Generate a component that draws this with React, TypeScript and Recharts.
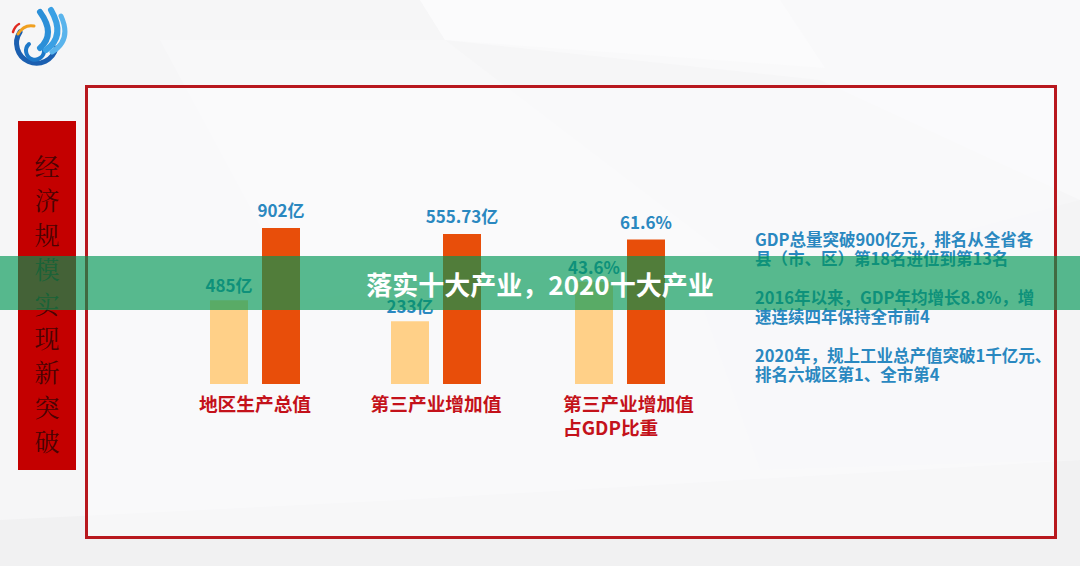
import { BarChart, Bar, XAxis, YAxis, LabelList } from 'recharts';

// chart data
const categories = ['地区生产总值', '第三产业增加值', '第三产业增加值\n占GDP比重'];
const before = [485, 233, 43.6];
const after = [902, 555.73, 61.6];
const units = ['亿', '亿', '%'];
// each group has its own scale on the slide
const domainMax = [1180, 756, 87];
const groupLeft = [165, 346, 530];

const notes = [
  ['GDP总量突破900亿元，排名从全省各', '县（市、区）第18名进位到第13名'],
  ['2016年以来，GDP年均增长8.8%，增', '速连续四年保持全市前4'],
  ['2020年，规上工业总产值突破1千亿元、', '排名六城区第1、全市第4'],
];
const sideTitle = '经济规模实现新突破';
const banner = '落实十大产业，2020十大产业';

const FONT = '"Noto Sans CJK SC", "Noto Sans", sans-serif';
const RED = '#c4121a';
const BLUE = '#2a88c0';

function CatTick(props: any) {
  const { x, y, payload } = props;
  const lines = String(payload.value).split('\n');
  const multi = lines.length > 1;
  const tx = multi ? x - 57 : x;
  return (
    <text
      x={tx}
      y={y}
      textAnchor={multi ? 'start' : 'middle'}
      fill={RED}
      fontSize={18.7}
      fontWeight={700}
      fontFamily={FONT}
    >
      {lines.map((l, i) => (
        <tspan key={i} x={tx} dy={i === 0 ? 19 : 24}>
          {l}
        </tspan>
      ))}
    </text>
  );
}

function Group({ i }: { i: number }) {
  const data = [{ name: categories[i], before: before[i], after: after[i] }];
  const fmt = (v: any) => `${v}${units[i]}`;
  const labelStyle = { fill: BLUE, fontSize: 17, fontWeight: 700, fontFamily: FONT };
  return (
    <div style={{ position: 'absolute', left: groupLeft[i], top: 180 }}>
      <BarChart
        width={180}
        height={264}
        data={data}
        margin={{ top: 0, right: 0, left: 0, bottom: 0 }}
        barSize={38}
        barGap={14}
        barCategoryGap={0}
      >
        <XAxis
          dataKey="name"
          axisLine={false}
          tickLine={false}
          interval={0}
          height={60}
          tick={(p: any) => <CatTick {...p} />}
        />
        <YAxis hide domain={[0, domainMax[i]]} />
        <Bar dataKey="before" fill="#ffd088" isAnimationActive={false}>
          <LabelList dataKey="before" position="top" offset={8} formatter={fmt} style={labelStyle} />
        </Bar>
        <Bar dataKey="after" fill="#e84e0a" isAnimationActive={false}>
          <LabelList dataKey="after" position="top" offset={11} formatter={fmt} style={labelStyle} />
        </Bar>
      </BarChart>
    </div>
  );
}

function Background() {
  return (
    <svg width={1080} height={566} style={{ position: 'absolute', left: 0, top: 0 }}>
      <rect width={1080} height={566} fill="#f6f6f7" />
      <polygon points="0,0 420,0 445,40 820,80 1080,200 1080,0" fill="#f9f9fa" />
      <polygon points="420,0 780,0 825,68 445,40" fill="#fbfbfc" />
      <polygon points="160,40 445,40 720,250 300,300" fill="#f8f8f9" />
      <polygon points="0,520 400,500 1080,460 1080,566 0,566" fill="#f1f1f2" />
      <polygon points="700,300 1080,200 1080,460 760,470" fill="#f4f4f5" />
    </svg>
  );
}

function Logo() {
  return (
    <svg width={70} height={70} style={{ position: 'absolute', left: 4, top: 2 }}>
      <path d="M 16 30 A 20 20 0 1 0 52 46" fill="none" stroke="#1b5fb0" strokeWidth={5} strokeLinecap="round" />
      <path d="M 25 42 A 9 9 0 1 0 40 48" fill="none" stroke="#1e78c8" strokeWidth={4} strokeLinecap="round" />
      <path d="M 36 46 Q 52 32 36 10" fill="none" stroke="#2b8fd8" strokeWidth={6} strokeLinecap="round" />
      <path d="M 42 48 Q 62 34 47 8" fill="none" stroke="#3aa0e4" strokeWidth={6} strokeLinecap="round" />
      <path d="M 48 50 Q 68 38 57 14" fill="none" stroke="#5ab4ec" strokeWidth={5} strokeLinecap="round" />
      <path d="M 14 32 Q 20 22 30 24" fill="none" stroke="#f0a020" strokeWidth={3} strokeLinecap="round" />
      <path d="M 9 30 Q 11 24 15 22" fill="none" stroke="#e02a20" strokeWidth={2.5} strokeLinecap="round" />
    </svg>
  );
}

export default function App() {
  return (
    <div style={{ position: 'absolute', left: 0, top: 0, width: 1080, height: 566, overflow: 'hidden', fontFamily: FONT }}>
      <Background />
      <Logo />
      {/* framed panel */}
      <div
        style={{
          position: 'absolute',
          left: 85,
          top: 85,
          width: 966,
          height: 448,
          border: '3px solid #b8181e',
          background: 'rgba(252,252,253,0.55)',
        }}
      />
      {/* vertical title */}
      <div
        style={{
          position: 'absolute',
          left: 18,
          top: 121,
          width: 58,
          height: 349,
          background: '#c40000',
          display: 'flex',
          flexDirection: 'column',
          alignItems: 'center',
          paddingTop: 27,
          boxSizing: 'border-box',
        }}
      >
        {sideTitle.split('').map((c, i) => (
          <div key={i} style={{ fontSize: 25, lineHeight: '34.4px', color: '#4a0303', fontFamily: '"Noto Serif CJK SC", "Noto Sans CJK SC", serif' }}>
            {c}
          </div>
        ))}
      </div>

      {categories.map((_, i) => (
        <Group key={i} i={i} />
      ))}

      {/* notes */}
      <div style={{ position: 'absolute', left: 755, top: 230, color: BLUE, fontSize: 16.5, fontWeight: 700, lineHeight: '19px', whiteSpace: 'nowrap' }}>
        {notes.map((block, i) => (
          <div key={i} style={{ marginBottom: 20 }}>
            {block.map((l, j) => (
              <div key={j}>{l}</div>
            ))}
          </div>
        ))}
      </div>

      {/* banner overlay */}
      <div
        style={{
          position: 'absolute',
          left: 0,
          top: 256,
          width: 1080,
          height: 54,
          background: 'rgba(0,150,85,0.65)',
          color: '#ffffff',
          fontSize: 26,
          fontWeight: 700,
          display: 'flex',
          alignItems: 'center',
          justifyContent: 'center',
        }}
      >
        {banner}
      </div>
    </div>
  );
}
